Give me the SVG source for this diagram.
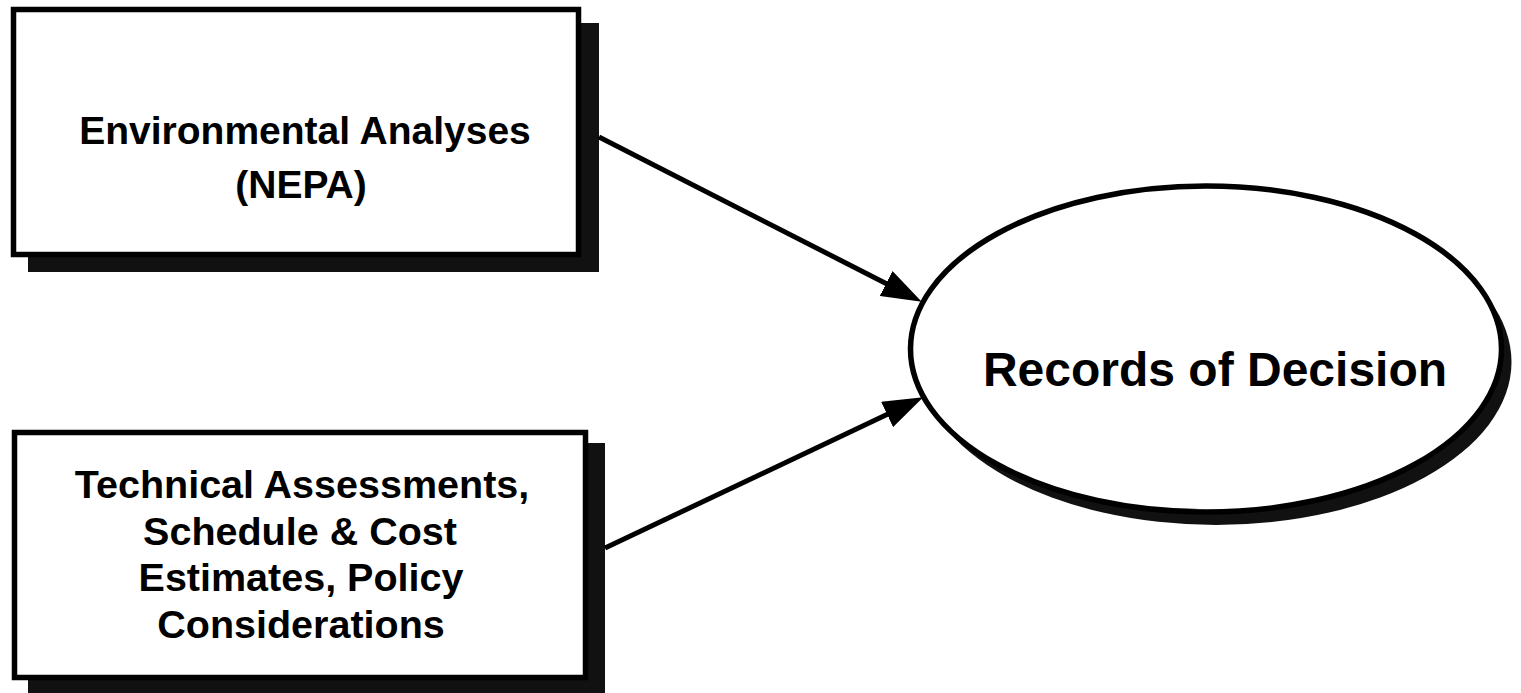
<svg xmlns="http://www.w3.org/2000/svg" width="1521" height="693" viewBox="0 0 1521 693">
  <style>
    .box { fill: #ffffff; stroke: #000000; stroke-width: 5.5; }
    .shadow { fill: #111111; stroke: none; }
    .label { font-family: "Liberation Sans", Arial, sans-serif; font-weight: bold; fill: #000000; text-anchor: middle; }
    .conn { stroke: #000000; stroke-width: 5; fill: none; }
  </style>
  <defs>
    <marker id="arrow" markerUnits="userSpaceOnUse" viewBox="0 0 40 28" refX="1" refY="14" markerWidth="40" markerHeight="28" orient="auto">
      <path d="M0,0 L40,14 L0,28 z" fill="#000000"/>
    </marker>
  </defs>
  <rect width="1521" height="693" fill="#ffffff"/>

  <g id="node-environmental">
    <rect class="shadow" x="28" y="23" width="571" height="249"/>
    <rect class="box" x="13.5" y="9.5" width="565" height="245"/>
    <text class="label" x="305" y="144" font-size="39">Environmental Analyses</text>
    <text class="label" x="301" y="198" font-size="39">(NEPA)</text>
  </g>

  <g id="node-technical">
    <rect class="shadow" x="28" y="443" width="577" height="260"/>
    <rect class="box" x="14.5" y="432.5" width="571" height="245"/>
    <text class="label" x="302" y="498" font-size="39.5">Technical Assessments,</text>
    <text class="label" x="300" y="545" font-size="39.5">Schedule &amp; Cost</text>
    <text class="label" x="301" y="591" font-size="39.5">Estimates, Policy</text>
    <text class="label" x="301" y="638" font-size="39.5">Considerations</text>
  </g>

  <g id="node-records">
    <ellipse class="shadow" cx="1216" cy="362" rx="295.5" ry="163"/>
    <ellipse class="box" cx="1206" cy="349" rx="295.5" ry="163" stroke-width="5"/>
    <text class="label" x="1215" y="386" font-size="48">Records of Decision</text>
  </g>

  <g id="connectors">
    <line class="conn" x1="599" y1="137" x2="887" y2="284" marker-end="url(#arrow)"/>
    <line class="conn" x1="605" y1="548" x2="888" y2="414" marker-end="url(#arrow)"/>
  </g>
</svg>
